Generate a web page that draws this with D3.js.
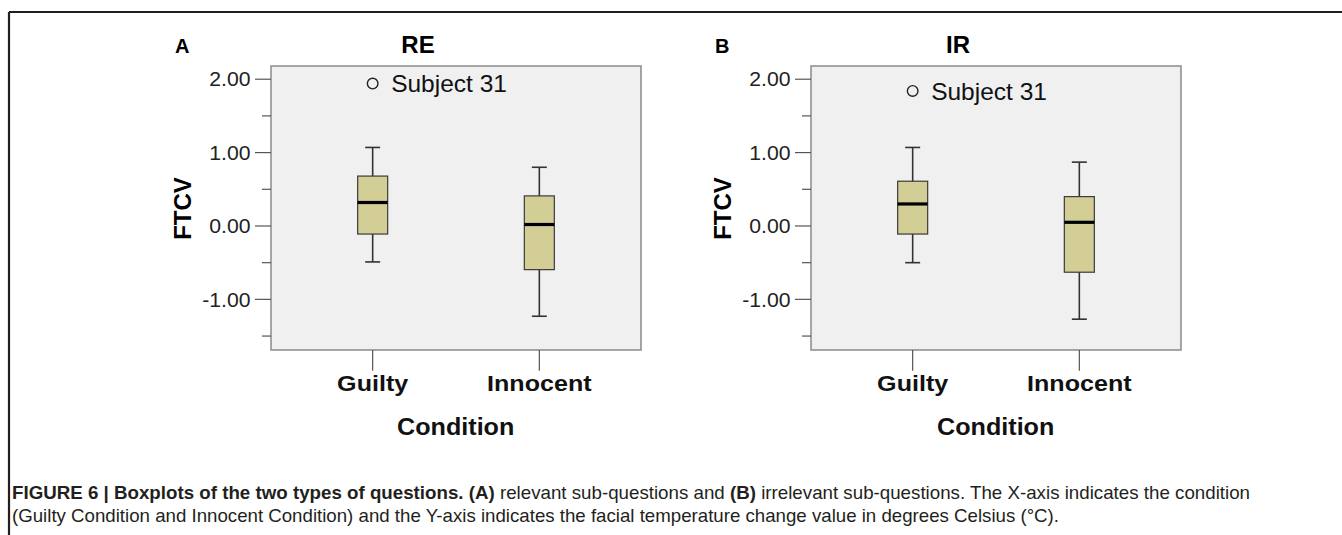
<!DOCTYPE html>
<html>
<head>
<meta charset="utf-8">
<script src="https://cdn.jsdelivr.net/npm/d3@7"></script>
<style>
  body { margin: 0; background: #fff; }
  svg { display: block; font-family: "Liberation Sans", Arial, sans-serif; }
</style>
</head>
<body>
<svg id="chart" width="1342" height="535"></svg>
<script>
// data
const categories = ['Guilty', 'Innocent'];
const panelNames = ['RE', 'IR'];
const panelLetters = ['A', 'B'];

const reLow  = [-0.49, -1.23];
const reQ1   = [-0.11, -0.595];
const reMed  = [0.32, 0.02];
const reQ3   = [0.68, 0.41];
const reHigh = [1.07, 0.80];

const irLow  = [-0.50, -1.27];
const irQ1   = [-0.11, -0.63];
const irMed  = [0.30, 0.05];
const irQ3   = [0.61, 0.40];
const irHigh = [1.07, 0.87];

const outlierValues = [1.94, 1.84];   // Guilty group, one per panel
const outlierLabel = 'Subject 31';

const yMajorTicks = [2, 1, 0, -1];
const yMinorTicks = [1.5, 0.5, -0.5, -1.5];

const svg = d3.select('#chart');

// figure frame (top and left rule)
svg.append('line').attr('x1', 9).attr('x2', 1342).attr('y1', 12).attr('y2', 12)
    .attr('stroke', '#231f20').attr('stroke-width', 2.2);
svg.append('line').attr('x1', 9).attr('x2', 9).attr('y1', 12).attr('y2', 535)
    .attr('stroke', '#231f20').attr('stroke-width', 2.2);

const plotW = 370, plotH = 284;

const y = d3.scaleLinear().domain([-1.69, 2.18]).range([plotH, 0]);
const x = d3.scalePoint().domain(categories).range([0, plotW]).padding(0.61);

const fmt = d => d3.format('.2f')(d).replace('\u2212', '-');

// the figure is stretched a bit horizontally, widen text to match
const stretch = (sel, k) => sel.each(function () {
    const len = this.getComputedTextLength();
    d3.select(this).attr('textLength', len * k).attr('lengthAdjust', 'spacingAndGlyphs');
});

const panels = [
    { left: 271, low: reLow, q1: reQ1, med: reMed, q3: reQ3, high: reHigh },
    { left: 811, low: irLow, q1: irQ1, med: irMed, q3: irQ3, high: irHigh }
];

panels.forEach((p, pi) => {
    const g = svg.append('g').attr('transform', `translate(${p.left},66)`);

    // panel letter and title
    g.append('text').text(panelLetters[pi])
        .attr('x', -96).attr('y', -12.7)
        .attr('font-size', 20).attr('font-weight', 'bold');
    g.append('text').text(panelNames[pi])
        .attr('x', 147).attr('y', -12.7)
        .attr('text-anchor', 'middle')
        .attr('font-size', 24).attr('font-weight', 'bold');

    g.append('rect').attr('width', plotW).attr('height', plotH)
        .attr('fill', '#f0f0f0').attr('stroke', '#8a8a8a').attr('stroke-width', 1.5);

    // y axis ticks
    g.selectAll('.major').data(yMajorTicks).enter().append('line')
        .attr('x1', -16).attr('x2', 0)
        .attr('y1', d => y(d)).attr('y2', d => y(d))
        .attr('stroke', '#555').attr('stroke-width', 1.2);
    g.selectAll('.minor').data(yMinorTicks).enter().append('line')
        .attr('x1', -9).attr('x2', 0)
        .attr('y1', d => y(d)).attr('y2', d => y(d))
        .attr('stroke', '#555').attr('stroke-width', 1.2);
    g.selectAll('.ylab').data(yMajorTicks).enter().append('text')
        .text(fmt)
        .attr('x', -20.5).attr('y', d => y(d)).attr('dy', '0.36em')
        .attr('text-anchor', 'end').attr('font-size', 20).attr('fill', '#222')
        .call(stretch, 1.06);

    g.append('text').text('FTCV')
        .attr('transform', `translate(-80.5,${y(0) - 17.5}) rotate(-90)`)
        .attr('text-anchor', 'middle')
        .attr('font-size', 24).attr('font-weight', 'bold');

    // x axis ticks and labels
    g.selectAll('.xtick').data(categories).enter().append('line')
        .attr('x1', d => x(d)).attr('x2', d => x(d))
        .attr('y1', plotH).attr('y2', plotH + 20.7)
        .attr('stroke', '#555').attr('stroke-width', 1.2);
    g.selectAll('.xlab').data(categories).enter().append('text')
        .text(d => d)
        .attr('x', d => x(d)).attr('y', plotH + 41)
        .attr('text-anchor', 'middle')
        .attr('font-size', 22).attr('font-weight', 'bold').attr('fill', '#111')
        .call(stretch, 1.14);
    g.append('text').text('Condition')
        .attr('x', 184.7).attr('y', plotH + 85)
        .attr('text-anchor', 'middle')
        .attr('font-size', 23.5).attr('font-weight', 'bold').attr('fill', '#111')
        .call(stretch, 1.07);

    // boxes
    const boxW = 30, capW = 15;
    categories.forEach((c, i) => {
        const cx = x(c);
        g.append('line')
            .attr('x1', cx).attr('x2', cx)
            .attr('y1', y(p.high[i])).attr('y2', y(p.low[i]))
            .attr('stroke', '#333').attr('stroke-width', 1.6);
        [p.high[i], p.low[i]].forEach(v => {
            g.append('line')
                .attr('x1', cx - capW / 2).attr('x2', cx + capW / 2)
                .attr('y1', y(v)).attr('y2', y(v))
                .attr('stroke', '#333').attr('stroke-width', 1.6);
        });
        g.append('rect')
            .attr('x', cx - boxW / 2).attr('width', boxW)
            .attr('y', y(p.q3[i])).attr('height', y(p.q1[i]) - y(p.q3[i]))
            .attr('fill', '#d3cd96').attr('stroke', '#3a3a3a').attr('stroke-width', 1.2);
        g.append('line')
            .attr('x1', cx - boxW / 2).attr('x2', cx + boxW / 2)
            .attr('y1', y(p.med[i])).attr('y2', y(p.med[i]))
            .attr('stroke', '#000').attr('stroke-width', 3.2);
    });

    // outlier
    const ox = x(categories[0]), oy = y(outlierValues[pi]);
    g.append('circle').attr('cx', ox).attr('cy', oy).attr('r', 5.3)
        .attr('fill', 'none').attr('stroke', '#222').attr('stroke-width', 1.4);
    g.append('text').text(outlierLabel)
        .attr('x', ox + 18.5).attr('y', oy).attr('dy', '0.36em')
        .attr('font-size', 24.5).attr('fill', '#111');
});

// caption: narrow-looking type, squeezed to the widths seen in the figure
const cap = svg.append('g').attr('fill', '#231f20');
const line1 = cap.append('text').attr('x', 12).attr('y', 499).attr('font-size', 18.5);
line1.append('tspan').attr('font-weight', 'bold').text('FIGURE 6 | Boxplots of the two types of questions. (A)');
line1.append('tspan').text(' relevant sub-questions and ');
line1.append('tspan').attr('font-weight', 'bold').text('(B)');
line1.append('tspan').text(' irrelevant sub-questions. The X-axis indicates the condition');
const line2 = cap.append('text').attr('x', 12).attr('y', 521.5).attr('font-size', 18.5)
    .text('(Guilty Condition and Innocent Condition) and the Y-axis indicates the facial temperature change value in degrees Celsius (\u00B0C).');

[[line1, 1238], [line2, 1047]].forEach(([t, w]) => {
    t.attr('textLength', w).attr('lengthAdjust', 'spacingAndGlyphs');
});
</script>
</body>
</html>
